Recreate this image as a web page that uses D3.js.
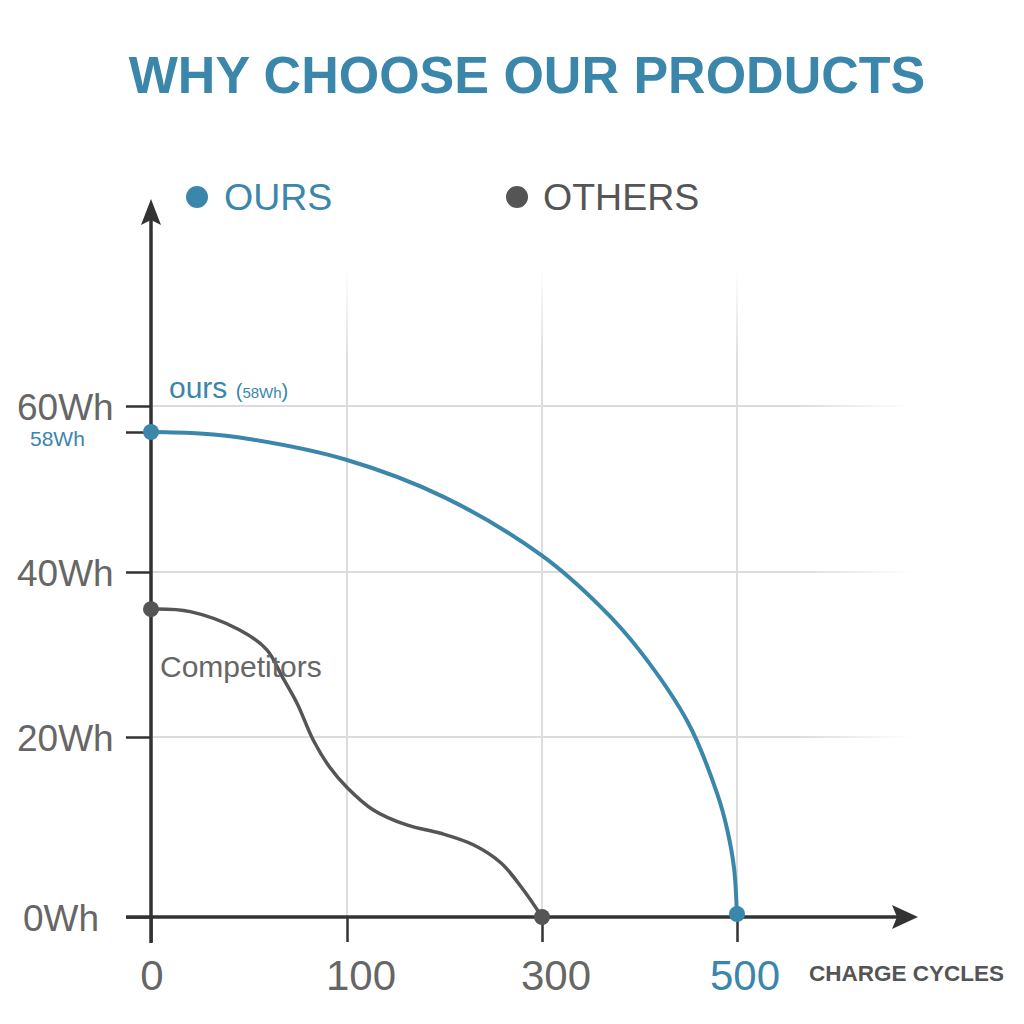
<!DOCTYPE html>
<html>
<head>
<meta charset="utf-8">
<script src="https://cdn.jsdelivr.net/npm/d3@7"></script>
<style>
  body { margin: 0; background: #fff; }
  text { font-family: "Liberation Sans", Arial, sans-serif; }
</style>
</head>
<body>
<svg id="chart" width="1024" height="1024"></svg>
<script>
// data
var xTicks = [0, 100, 300, 500];
var yTicks = [0, 20, 40, 58, 60];
var yLabels = ["0Wh", "20Wh", "40Wh", "60Wh"];
var gridX = [100, 300, 500];
var gridY = [20, 40, 60];

var oursCycles = [0, 25, 50, 100, 200, 300, 360, 400, 450, 480, 490, 497, 500];
var oursWh     = [58, 57.8, 57.1, 54.4, 49.6, 42.1, 35.8, 30.5, 21.7, 13.6, 9.7, 5.4, 0];

var othersCycles = [0, 20, 45, 59, 67, 74.5, 82.7, 91, 100, 127, 162, 196, 230, 258, 281, 300];
var othersWh     = [35.5, 35.2, 33.0, 30.6, 27.3, 24.1, 19.7, 16.7, 14.4, 11.9, 10.2, 9.3, 8.0, 6.0, 3.0, 0];

var blue = "#3b86ab", grey = "#555", axisCol = "#333", labelCol = "#666";

var svg = d3.select("#chart");

// scales (the picture spaces the ticks evenly, so piecewise)
var x = d3.scaleLinear().domain([0, 100, 300, 500]).range([151, 347, 542, 737]);
var y = d3.scaleLinear().domain([0, 20, 40, 58, 60]).range([917, 737, 572, 432, 406]);

// fading gradients for the grid
var defs = svg.append("defs");
var gh = defs.append("linearGradient").attr("id", "gh").attr("gradientUnits", "userSpaceOnUse")
    .attr("x1", 151).attr("x2", 912).attr("y1", 0).attr("y2", 0);
gh.append("stop").attr("offset", "0.85").attr("stop-color", "#dcdcdc");
gh.append("stop").attr("offset", "1").attr("stop-color", "#fff");
var gv = defs.append("linearGradient").attr("id", "gv").attr("gradientUnits", "userSpaceOnUse")
    .attr("x1", 0).attr("x2", 0).attr("y1", 268).attr("y2", 917);
gv.append("stop").attr("offset", "0").attr("stop-color", "#fff");
gv.append("stop").attr("offset", "0.15").attr("stop-color", "#dcdcdc");

svg.selectAll(".gridy").data(gridY).enter().append("line")
    .attr("x1", 151).attr("x2", 912)
    .attr("y1", function(d) { return y(d); }).attr("y2", function(d) { return y(d); })
    .attr("stroke", "url(#gh)").attr("stroke-width", 2);

svg.selectAll(".gridx").data(gridX).enter().append("line")
    .attr("x1", function(d) { return x(d); }).attr("x2", function(d) { return x(d); })
    .attr("y1", 268).attr("y2", 917)
    .attr("stroke", "url(#gv)").attr("stroke-width", 2);

// title
svg.append("text")
    .attr("x", 527).attr("y", 93)
    .attr("text-anchor", "middle")
    .attr("font-size", 52).attr("font-weight", "bold")
    .attr("fill", blue)
    .text("WHY CHOOSE OUR PRODUCTS");

// legend
svg.append("circle").attr("cx", 197).attr("cy", 197).attr("r", 11).attr("fill", blue);
svg.append("text").attr("x", 224).attr("y", 210).attr("font-size", 37.5).attr("fill", blue).text("OURS");
svg.append("circle").attr("cx", 517).attr("cy", 197).attr("r", 11).attr("fill", grey);
svg.append("text").attr("x", 543).attr("y", 210).attr("font-size", 37.5).attr("fill", grey).text("OTHERS");

// axes
var xAxis = svg.append("g")
    .attr("transform", "translate(0," + y(0) + ")")
    .call(d3.axisBottom(x).tickValues(xTicks).tickSizeInner(25).tickSizeOuter(0).tickFormat(""));
xAxis.select(".domain").remove();
xAxis.selectAll("line").attr("stroke", axisCol).attr("stroke-width", 2.5);

var yAxis = svg.append("g")
    .attr("transform", "translate(" + x(0) + ",0)")
    .call(d3.axisLeft(y).tickValues(yTicks).tickSizeInner(25).tickSizeOuter(0).tickFormat(""));
yAxis.select(".domain").remove();
yAxis.selectAll("line").attr("stroke", axisCol).attr("stroke-width", 2.5);

svg.append("line").attr("x1", 126).attr("x2", 900).attr("y1", y(0)).attr("y2", y(0))
    .attr("stroke", axisCol).attr("stroke-width", 3.5);
svg.append("path").attr("d", "M918,917 L892,905 L897,917 L892,929 Z").attr("fill", axisCol);
svg.append("line").attr("x1", x(0)).attr("x2", x(0)).attr("y1", 215).attr("y2", 943)
    .attr("stroke", axisCol).attr("stroke-width", 3.5);
svg.append("path").attr("d", "M151,199 L141,225 L151,220 L161,225 Z").attr("fill", axisCol);

// tick labels
svg.selectAll(".xl").data(xTicks).enter().append("text")
    .attr("x", function(d, i) { return x(d) + (i === 0 ? 1 : (i === 3 ? 8 : 14)); })
    .attr("y", 990)
    .attr("text-anchor", "middle")
    .attr("font-size", 42)
    .attr("fill", function(d, i) { return i === 3 ? blue : labelCol; })
    .text(function(d) { return d; });

svg.selectAll(".yl").data(gridY.concat([0])).enter().append("text")
    .attr("x", function(d) { return d === 0 ? 23 : 17; })
    .attr("y", function(d) { return y(d) + 14; })
    .attr("font-size", 37)
    .attr("fill", labelCol)
    .text(function(d) { return yLabels[[0, 20, 40, 60].indexOf(d)]; });

svg.append("text").attr("x", 30).attr("y", 446).attr("font-size", 21).attr("fill", blue).text("58Wh");

svg.append("text").attr("x", 809).attr("y", 981)
    .attr("font-size", 22.5).attr("font-weight", "bold").attr("fill", grey)
    .text("CHARGE CYCLES");

// lines
var ours = oursCycles.map(function(c, i) { return [c, oursWh[i]]; });
var others = othersCycles.map(function(c, i) { return [c, othersWh[i]]; });

var line = d3.line()
    .x(function(d) { return x(d[0]); })
    .y(function(d) { return y(d[1]); })
    .curve(d3.curveCatmullRom.alpha(0.5));

svg.append("path").attr("d", line(others)).attr("fill", "none")
    .attr("stroke", grey).attr("stroke-width", 3.5);
svg.append("path").attr("d", line(ours)).attr("fill", "none")
    .attr("stroke", blue).attr("stroke-width", 4);

// end points
svg.selectAll(".dotO").data([others[0], others[others.length - 1]]).enter().append("circle")
    .attr("cx", function(d) { return x(d[0]); }).attr("cy", function(d) { return y(d[1]); })
    .attr("r", 8).attr("fill", grey);
svg.selectAll(".dotU").data([ours[0], ours[ours.length - 1]]).enter().append("circle")
    .attr("cx", function(d) { return x(d[0]); }).attr("cy", function(d) { return y(d[1]) - (d[1] === 0 ? 3 : 0); })
    .attr("r", 8).attr("fill", blue);

// annotations
var oursLabel = svg.append("text").attr("x", 169).attr("y", 398).attr("fill", blue);
oursLabel.append("tspan").attr("font-size", 30).text("ours ");
oursLabel.append("tspan").attr("font-size", 20).text("(");
oursLabel.append("tspan").attr("font-size", 15).text("58Wh");
oursLabel.append("tspan").attr("font-size", 20).text(")");

svg.append("text").attr("x", 160).attr("y", 677).attr("font-size", 30).attr("fill", labelCol).text("Competitors");
</script>
</body>
</html>
